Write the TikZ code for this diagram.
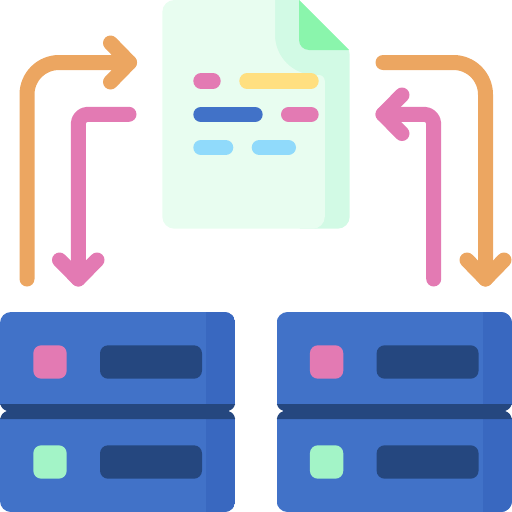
\documentclass[tikz,border=0pt]{standalone}
\definecolor{srvblue}{HTML}{4172C8}
\definecolor{srvstripe}{HTML}{3968C0}
\definecolor{srvdark}{HTML}{25477F}
\definecolor{pinkc}{HTML}{E37AB3}
\definecolor{mintc}{HTML}{A3F4C7}
\definecolor{orangec}{HTML}{ECA661}
\definecolor{pagec}{HTML}{E8FDF0}
\definecolor{foldc}{HTML}{D2FAE5}
\definecolor{cornerc}{HTML}{8AF5AC}
\definecolor{yellowc}{HTML}{FFDF80}
\definecolor{skyc}{HTML}{90DAFB}
\tikzset{
  flow/.style={line width=15pt,line cap=round,line join=round},
  barline/.style={line width=15.4pt,line cap=round},
  lampbox/.style={rounded corners=8pt},
}
\newcommand{\serverstack}{%
  \begin{scope}
    \clip[rounded corners=11pt] (0,312) rectangle (235.4,415);
    \fill[srvblue] (0,312) rectangle (235.4,405);
    \fill[srvstripe] (206,312) rectangle (235.4,405);
  \end{scope}
  \begin{scope}
    \clip[rounded corners=11pt] (0,408) rectangle (235.4,512);
    \fill[srvblue] (0,418) rectangle (235.4,512);
    \fill[srvstripe] (206,418) rectangle (235.4,512);
  \end{scope}
  \fill[srvdark] (0.3,404) .. controls (1.2,407.5) and (3,409.5) .. (7,411)
    .. controls (3,412.5) and (1.2,414.5) .. (0.3,418.6) -- (0.3,419) -- (235.1,419) -- (235.1,418.6)
    .. controls (234.2,414.5) and (232.4,412.5) .. (228.4,411)
    .. controls (232.4,409.5) and (234.2,407.5) .. (235.1,404) -- cycle;
  \fill[pinkc,lampbox] (33.3,345.3) rectangle (66.7,378.7);
  \fill[srvdark,lampbox] (100,345.3) rectangle (202,378.7);
  \fill[mintc,lampbox] (33.3,445.3) rectangle (66.7,478.7);
  \fill[srvdark,lampbox] (100,445.3) rectangle (202,478.7);
}
\begin{document}
\begin{tikzpicture}[x=1pt,y=-1pt]
\useasboundingbox (0,0) rectangle (512,512);
% document back sheet
\fill[foldc] (275,0) -- (299,0) -- (347,48) .. controls (349,50) and (349.7,52) .. (349.7,55)
  -- (349.7,216.7) .. controls (349.7,223.3) and (344.3,228.7) .. (337.7,228.7)
  -- (300,228.7) -- (275,100) -- cycle;
% document front sheet
\fill[pagec] (174.3,0) -- (275,0) -- (275,35)
  .. controls (275,57) and (293,75) .. (315,75) -- (318.8,75)
  .. controls (322.1,75) and (324.8,77.7) .. (324.8,81) -- (324.8,216.7)
  .. controls (324.8,223.3) and (319.4,228.7) .. (312.8,228.7) -- (174.3,228.7)
  .. controls (167.7,228.7) and (162.3,223.3) .. (162.3,216.7) -- (162.3,12)
  .. controls (162.3,5.4) and (167.7,0) .. (174.3,0) -- cycle;
% folded corner
\fill[cornerc] (299,0) -- (349.2,50) -- (309,50)
  .. controls (303.5,50) and (299,45.5) .. (299,40) -- cycle;
% text lines
\draw[barline,pinkc] (201,81) -- (213,81);
\draw[barline,yellowc] (247,81) -- (311,81);
\draw[barline,srvblue] (201,114.5) -- (255,114.5);
\draw[barline,pinkc] (288.7,114.5) -- (311,114.5);
\draw[barline,skyc] (201,147.5) -- (225.6,147.5);
\draw[barline,skyc] (259.4,147.5) -- (288.3,147.5);
% arrows
\draw[flow,orangec,rounded corners=32pt] (27,279) -- (27,62.5) -- (129.5,62.5);
\draw[flow,orangec] (110.5,43) -- (129.5,62.5) -- (110.5,82);
\draw[flow,pinkc,rounded corners=9.5pt] (129,114.3) -- (78.3,114.3) -- (78.3,279);
\draw[flow,pinkc] (59.5,260) -- (78.3,279) -- (97,260);
\draw[flow,orangec,rounded corners=32pt] (383,62.5) -- (485.5,62.5) -- (485.5,279);
\draw[flow,orangec] (467,260) -- (485.5,279) -- (504,260);
\draw[flow,pinkc,rounded corners=9.5pt] (433.7,279) -- (433.7,114.3) -- (383,114.3);
\draw[flow,pinkc] (402,95) -- (383,114.3) -- (402,133.5);
% servers
\begin{scope}\serverstack\end{scope}
\begin{scope}[xshift=276.6pt]\serverstack\end{scope}
\end{tikzpicture}
\end{document}
